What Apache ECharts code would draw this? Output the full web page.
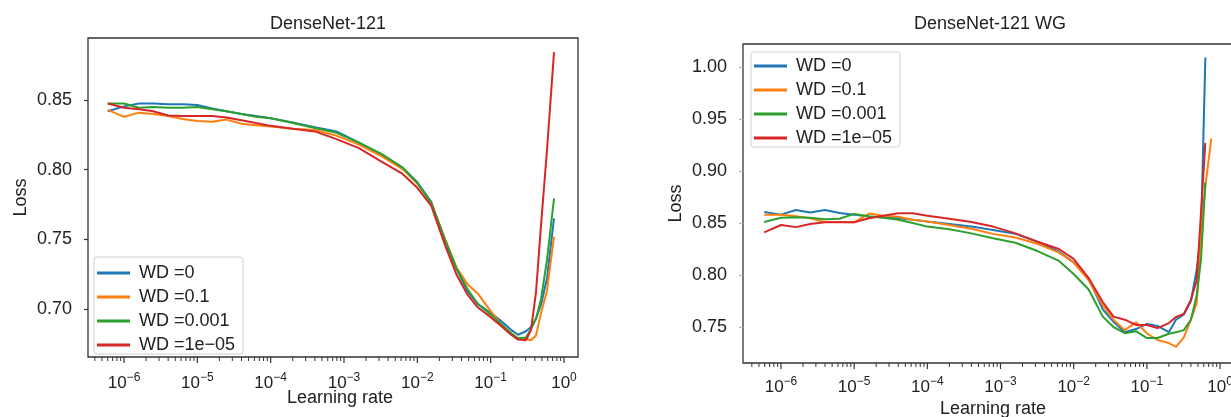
<!DOCTYPE html>
<html>
<head>
<meta charset="utf-8">
<script src="https://cdn.jsdelivr.net/npm/echarts@6/dist/echarts.min.js"></script>
<style>
html, body { margin: 0; padding: 0; background: #fff; }
#chart { width: 1231px; height: 417px; }
</style>
</head>
<body>
<div id="chart"></div>
<script>
const seriesNames = ['WD =0', 'WD =0.1', 'WD =0.001', 'WD =1e\u221205'];
const seriesColors = ['#1f77b4', '#ff7f0e', '#2ca02c', '#d62728'];

// tick values and labels
const xMajorTicks = [1e-6, 1e-5, 1e-4, 1e-3, 1e-2, 1e-1, 1];
const xMajorExp = ['\u22126', '\u22125', '\u22124', '\u22123', '\u22122', '\u22121', '0'];
const yTicksLeft = [0.70, 0.75, 0.80, 0.85];
const yTicksRight = [0.75, 0.80, 0.85, 0.90, 0.95, 1.00];

// DenseNet-121
const lrLeft = [6.0e-7, 1.0e-6, 1.6e-6, 2.5e-6, 4.0e-6, 6.3e-6, 1.0e-5, 1.6e-5, 2.5e-5, 4.0e-5, 6.3e-5, 1.0e-4,
  2.0e-4, 4.0e-4, 7.9e-4, 1.6e-3, 3.2e-3, 6.3e-3, 1.0e-2, 1.55e-2, 2.4e-2, 3.4e-2, 4.8e-2, 6.7e-2,
  0.095, 0.134, 0.19, 0.236, 0.303, 0.355, 0.415, 0.486, 0.586, 0.731];
const lossLeftWd0 = [0.842, 0.8455, 0.8475, 0.8475, 0.847, 0.847, 0.8465, 0.844, 0.842, 0.840, 0.8385, 0.837,
  0.834, 0.8305, 0.8275, 0.8195, 0.811, 0.8015, 0.791, 0.777, 0.748, 0.729, 0.713, 0.7035,
  0.698, 0.692, 0.685, 0.6815, 0.684, 0.687, 0.693, 0.703, 0.722, 0.765];
const lossLeftWd01 = [0.843, 0.838, 0.841, 0.840, 0.8385, 0.8365, 0.835, 0.8345, 0.836, 0.833, 0.832, 0.831,
  0.8295, 0.8285, 0.8245, 0.818, 0.810, 0.8005, 0.790, 0.776, 0.750, 0.730, 0.718, 0.711,
  0.700, 0.690, 0.6825, 0.679, 0.6785, 0.6775, 0.681, 0.697, 0.713, 0.752];
const lossLeftWd0001 = [0.8476, 0.8476, 0.8445, 0.845, 0.8445, 0.8445, 0.845, 0.8435, 0.842, 0.840, 0.838, 0.837,
  0.8335, 0.830, 0.8265, 0.8195, 0.8115, 0.8015, 0.7905, 0.776, 0.7495, 0.7295, 0.7145, 0.7035,
  0.697, 0.690, 0.6825, 0.679, 0.6795, 0.6855, 0.693, 0.707, 0.735, 0.7795];
const lossLeftWd1e5 = [0.8476, 0.8445, 0.8435, 0.842, 0.839, 0.8385, 0.8385, 0.8385, 0.8375, 0.8355, 0.8335, 0.8315,
  0.8295, 0.8275, 0.822, 0.8155, 0.806, 0.797, 0.787, 0.774, 0.7455, 0.725, 0.7105, 0.701,
  0.695, 0.6885, 0.6815, 0.678, 0.6775, 0.685, 0.712, 0.76, 0.814, 0.8845];

// DenseNet-121 WG
const lrRight = [5.9e-7, 1.0e-6, 1.6e-6, 2.5e-6, 4.0e-6, 6.3e-6, 1.0e-5, 1.6e-5, 2.5e-5, 4.0e-5, 6.3e-5, 1.0e-4,
  2.0e-4, 4.0e-4, 7.9e-4, 1.6e-3, 3.2e-3, 6.3e-3, 1.0e-2, 1.6e-2, 2.5e-2, 3.5e-2, 5.0e-2, 7.1e-2,
  0.10, 0.14, 0.20, 0.25, 0.32, 0.40, 0.48, 0.55, 0.63, 0.76];
const lossRightWd0 = [0.8605, 0.858, 0.8625, 0.860, 0.8625, 0.8596, 0.858, 0.856, 0.8555, 0.8545, 0.853, 0.8513,
  0.849, 0.8465, 0.8433, 0.8395, 0.832, 0.8225, 0.812, 0.797, 0.767, 0.755, 0.745, 0.748,
  0.753, 0.751, 0.745, 0.757, 0.762, 0.775, 0.805, 0.84, 1.009, null];
const lossRightWd01 = [0.858, 0.858, 0.8565, 0.8545, 0.851, 0.851, 0.8506, 0.859, 0.857, 0.856, 0.853, 0.8513,
  0.848, 0.8445, 0.8395, 0.836, 0.830, 0.8215, 0.812, 0.795, 0.771, 0.757, 0.747, 0.7545,
  0.744, 0.7375, 0.7345, 0.731, 0.740, 0.757, 0.773, 0.84, 0.885, 0.931];
const lossRightWd0001 = [0.851, 0.855, 0.8556, 0.855, 0.8535, 0.854, 0.8587, 0.8564, 0.855, 0.853, 0.850, 0.8465,
  0.844, 0.840, 0.8353, 0.831, 0.823, 0.8135, 0.801, 0.786, 0.760, 0.750, 0.744, 0.746,
  0.7394, 0.7394, 0.7435, 0.745, 0.747, 0.757, 0.78, 0.815, 0.889, null];
const lossRightWd1e5 = [0.841, 0.848, 0.846, 0.849, 0.8506, 0.8506, 0.8506, 0.8545, 0.857, 0.8593, 0.8593, 0.857,
  0.854, 0.851, 0.8465, 0.840, 0.832, 0.825, 0.8155, 0.797, 0.774, 0.760, 0.757, 0.752,
  0.752, 0.749, 0.7538, 0.7596, 0.7625, 0.776, 0.795, 0.86, 0.927, null];

const FONT = '"Liberation Sans", Arial, Helvetica, sans-serif';
const TEXT = '#222';

const panels = [
  {
    title: 'DenseNet-121', titleX: 323, titleTop: 10,
    grid: { left: 88, top: 38, width: 490, height: 319 },
    lrMin: Math.pow(10, -6.491), lrMax: Math.pow(10, 0.191),
    lossMin: 0.6655, lossMax: 0.8946,
    yTicks: yTicksLeft, yTickColor: '#333', yNameGap: 58,
    xLabelOffset: 15, xNameGap: 32, xNamePad: 14,
    legend: { left: 94, top: 257, padding: [7, 8, 0, 3] },
    lr: lrLeft, losses: [lossLeftWd0, lossLeftWd01, lossLeftWd0001, lossLeftWd1e5]
  },
  {
    title: 'DenseNet-121 WG', titleX: 985, titleTop: 10,
    grid: { left: 743, top: 44, width: 491, height: 319 },
    lrMin: Math.pow(10, -6.519), lrMax: Math.pow(10, 0.191),
    lossMin: 0.7154, lossMax: 1.022,
    yTicks: yTicksRight, yTickColor: '#bbb', yNameGap: 58,
    xLabelOffset: 13, xNameGap: 37, xNamePad: 9,
    legend: { left: 751, top: 52, padding: [5, 8, 0, 3] },
    lr: lrRight, losses: [lossRightWd0, lossRightWd01, lossRightWd0001, lossRightWd1e5]
  }
];

function minorTicks(lo, hi) {
  const out = [];
  for (let k = -7; k <= 0; k++) {
    for (let m = 2; m <= 9; m++) {
      const v = m * Math.pow(10, k);
      if (v > lo && v < hi) out.push(v);
    }
  }
  return out;
}

const option = {
  animation: false,
  backgroundColor: '#fff',
  textStyle: { fontFamily: FONT },
  title: [],
  legend: [],
  grid: [],
  xAxis: [],
  yAxis: [],
  series: []
};

panels.forEach((p, gi) => {
  option.title.push({
    text: p.title, left: p.titleX, top: p.titleTop, textAlign: 'center',
    textStyle: { fontFamily: FONT, fontSize: 18, fontWeight: 'normal', color: TEXT }
  });
  // outerBoundsMode none: keep the grid where it is, even if names/labels run past the canvas
  option.grid.push(Object.assign({
    show: true, borderColor: '#333', borderWidth: 1.3, backgroundColor: 'transparent',
    containLabel: false, outerBoundsMode: 'none'
  }, p.grid));
  option.xAxis.push({
    gridIndex: gi, type: 'log', logBase: 10, min: p.lrMin, max: p.lrMax,
    axisLine: { show: false }, axisTick: { show: false }, axisLabel: { show: false }, splitLine: { show: false },
    name: 'Learning rate', nameLocation: 'middle', nameGap: p.xNameGap,
    nameTextStyle: { fontFamily: FONT, fontSize: 18, color: TEXT, padding: [0, 0, 0, p.xNamePad] }
  });
  option.yAxis.push({
    gridIndex: gi, type: 'value', min: p.lossMin, max: p.lossMax,
    axisLine: { show: false },
    axisTick: { show: true, customValues: p.yTicks, length: 4, lineStyle: { color: p.yTickColor, width: 1.2 } },
    axisLabel: { customValues: p.yTicks, formatter: v => v.toFixed(2), margin: 16, fontSize: 18, color: TEXT, fontFamily: FONT },
    splitLine: { show: false },
    name: 'Loss', nameLocation: 'middle', nameGap: p.yNameGap, nameRotate: 90,
    nameTextStyle: { fontFamily: FONT, fontSize: 18, color: TEXT }
  });
  option.legend.push({
    data: seriesNames, left: p.legend.left, top: p.legend.top, orient: 'vertical',
    icon: 'rect', itemWidth: 33, itemHeight: 3, itemGap: 6, padding: p.legend.padding,
    backgroundColor: 'rgba(255,255,255,0.85)', borderColor: '#d0d0d0', borderWidth: 1, borderRadius: 3,
    selectedMode: false,
    textStyle: { fontFamily: FONT, fontSize: 18, color: TEXT, lineHeight: 18, padding: [0, 0, 0, 4] }
  });

  p.losses.forEach((loss, si) => {
    const data = [];
    p.lr.forEach((x, j) => { if (loss[j] != null) data.push([x, loss[j]]); });
    option.series.push({
      name: seriesNames[si], type: 'line', xAxisIndex: gi, yAxisIndex: gi,
      data: data, showSymbol: false, symbol: 'none', smooth: false,
      color: seriesColors[si], lineStyle: { width: 2, color: seriesColors[si] },
      z: 2 + si
    });
  });

  // major x ticks with 10^n labels
  option.series.push({
    type: 'custom', xAxisIndex: gi, yAxisIndex: gi, silent: true, clip: false, z: 10,
    data: xMajorTicks.map((v, i) => [v, p.lossMin, i]),
    renderItem: (params, api) => {
      const pt = api.coord([api.value(0), api.value(1)]);
      const i = api.value(2);
      return {
        type: 'group',
        children: [
          { type: 'line', shape: { x1: pt[0], y1: pt[1], x2: pt[0], y2: pt[1] + 6 }, style: { stroke: '#333', lineWidth: 1.2 } },
          {
            type: 'text', x: pt[0], y: pt[1] + p.xLabelOffset,
            style: {
              text: '{b|10}{s|' + xMajorExp[i] + '}', align: 'center', verticalAlign: 'top',
              rich: {
                b: { fontFamily: FONT, fontSize: 17, lineHeight: 22, fill: TEXT },
                s: { fontFamily: FONT, fontSize: 12, lineHeight: 12, verticalAlign: 'top', fill: TEXT }
              }
            }
          }
        ]
      };
    }
  });
  // minor x ticks
  option.series.push({
    type: 'custom', xAxisIndex: gi, yAxisIndex: gi, silent: true, clip: false, z: 10,
    data: minorTicks(p.lrMin, p.lrMax).map(v => [v, p.lossMin]),
    renderItem: (params, api) => {
      const pt = api.coord([api.value(0), api.value(1)]);
      return { type: 'line', shape: { x1: pt[0], y1: pt[1], x2: pt[0], y2: pt[1] + 4 }, style: { stroke: '#333', lineWidth: 1 } };
    }
  });
});

const chart = echarts.init(document.getElementById('chart'), null, { renderer: 'canvas' });
chart.setOption(option);
</script>
</body>
</html>
